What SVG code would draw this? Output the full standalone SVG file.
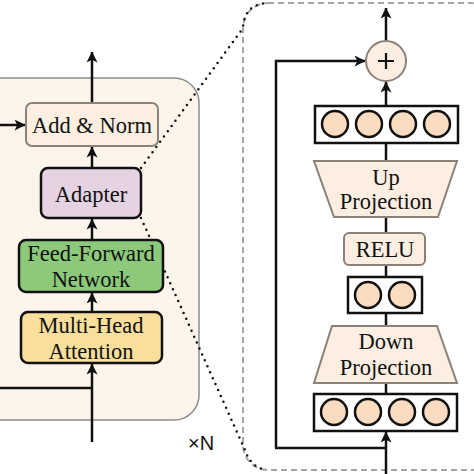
<svg xmlns="http://www.w3.org/2000/svg" width="474" height="474" viewBox="0 0 474 474">
<defs>
<marker id="ah" viewBox="0 0 10 10" refX="9.5" refY="5" markerWidth="12" markerHeight="11" markerUnits="userSpaceOnUse" orient="auto">
<path d="M0,0 L10,5 L0,10 L2.5,5 Z" fill="#111"/>
</marker>
<style>
.t{font-family:"Liberation Serif","Times New Roman",serif;font-size:22.5px;fill:#111;text-anchor:middle}
.ln{stroke:#111;stroke-width:2.5;fill:none}
.arr{stroke:#111;stroke-width:2.5;fill:none;marker-end:url(#ah)}
.peach{fill:#fcefe2;stroke:#8a8178;stroke-width:2}
.blk{stroke:#111;stroke-width:2.5}
.cir{fill:#fbdcc0;stroke:#111;stroke-width:2.5}
.dot{stroke:#111;stroke-width:2.5;fill:none;stroke-dasharray:0 6.5;stroke-linecap:round}
</style>
</defs>
<rect width="474" height="474" fill="#fff"/>
<g id="block">
<path d="M-10,78 H174 A25,25 0 0 1 199,103 V395 A25,25 0 0 1 174,420 H-10 Z" fill="#fdf5ec" stroke="#8c8c8c" stroke-width="1.5"/>
</g>
<g id="expanded">
<rect x="243" y="3" width="252" height="467" rx="25" fill="none" stroke="#a5a5a5" stroke-width="2" stroke-dasharray="6 4"/>
</g>
<g id="connectors">
<line class="arr" x1="92" y1="103" x2="92" y2="52"/>
<line class="arr" x1="0" y1="125" x2="25" y2="125"/>
<line class="arr" x1="92" y1="168" x2="92" y2="147"/>
<line class="arr" x1="92" y1="240" x2="92" y2="219"/>
<line class="arr" x1="92" y1="312" x2="92" y2="293"/>
<line class="arr" x1="92" y1="442" x2="92" y2="364"/>
<line class="ln" x1="0" y1="388" x2="92" y2="388"/>
<path class="dot" d="M141,168 L243,28 Q244,4 268,3"/>
<path class="dot" d="M141,218 L245,450 Q250,466 265,470"/>
<line class="arr" x1="386" y1="41" x2="386" y2="8"/>
<path class="arr" d="M276,448 V61 H365"/>
<line class="arr" x1="386" y1="106" x2="386" y2="82"/>
<line class="ln" x1="386" y1="143" x2="386" y2="161"/>
<line class="ln" x1="386" y1="217" x2="386" y2="233"/>
<line class="ln" x1="386" y1="265" x2="386" y2="277"/>
<line class="ln" x1="386" y1="313" x2="386" y2="326"/>
<line class="ln" x1="386" y1="383" x2="386" y2="394"/>
<line class="arr" x1="386" y1="474" x2="386" y2="432"/>
<line class="ln" x1="275" y1="448" x2="386" y2="448"/>
</g>
<g id="addnorm">
<rect class="peach" x="26" y="103" width="132" height="43" rx="6"/>
<text class="t" x="92" y="133">Add &amp; Norm</text>
</g>
<g id="adapter">
<rect class="blk" x="41" y="168" width="100" height="50" rx="7" fill="#e5d3e3"/>
<text class="t" x="91" y="202">Adapter</text>
</g>
<g id="ffn">
<rect class="blk" x="19" y="240" width="144" height="52" rx="7" fill="#8cc97a"/>
<text class="t" x="91" y="261">Feed-Forward</text>
<text class="t" x="91" y="287">Network</text>
</g>
<g id="mha">
<rect class="blk" x="21" y="312" width="141" height="51" rx="7" fill="#f9df9b"/>
<text class="t" x="91" y="333">Multi-Head</text>
<text class="t" x="91" y="359">Attention</text>
</g>
<g id="xn">
<text x="188" y="450" font-family="'Liberation Sans',Arial,sans-serif" font-size="20" fill="#111">×N</text>
</g>
<g id="plus">
<circle cx="386" cy="61" r="20" fill="#fcefe2" stroke="#8a8178" stroke-width="2"/>
<path d="M378,61 H394 M386,53 V69" stroke="#111" stroke-width="2.2"/>
</g>
<g id="out4">
<rect x="315" y="106" width="143" height="37" fill="#fff" stroke="#111" stroke-width="2.5"/>
<circle class="cir" cx="335" cy="124" r="13"/>
<circle class="cir" cx="369" cy="124" r="13"/>
<circle class="cir" cx="403" cy="124" r="13"/>
<circle class="cir" cx="437" cy="124" r="13"/>
</g>
<g id="upproj">
<polygon class="peach" points="314,161 457,161 438,217 334,217"/>
<text class="t" x="386" y="185">Up</text>
<text class="t" x="386" y="209">Projection</text>
</g>
<g id="relu">
<rect class="peach" x="344" y="233" width="81" height="32" rx="5"/>
<text class="t" x="385" y="257">RELU</text>
</g>
<g id="mid2">
<rect x="348" y="277" width="74" height="36" fill="#fff" stroke="#111" stroke-width="2.5"/>
<circle class="cir" cx="368" cy="295" r="13"/>
<circle class="cir" cx="402" cy="295" r="13"/>
</g>
<g id="downproj">
<polygon class="peach" points="332,326 437,326 457,383 314,383"/>
<text class="t" x="386" y="349">Down</text>
<text class="t" x="386" y="375">Projection</text>
</g>
<g id="in4">
<rect x="314" y="394" width="143" height="37" fill="#fff" stroke="#111" stroke-width="2.5"/>
<circle class="cir" cx="334" cy="412" r="13"/>
<circle class="cir" cx="368" cy="412" r="13"/>
<circle class="cir" cx="402" cy="412" r="13"/>
<circle class="cir" cx="436" cy="412" r="13"/>
</g>
</svg>
